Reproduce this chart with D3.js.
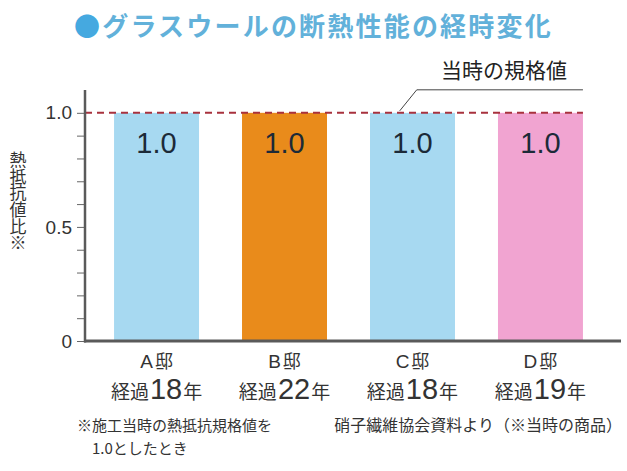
<!DOCTYPE html>
<html>
<head>
<meta charset="utf-8">
<script src="https://cdn.jsdelivr.net/npm/d3@7"></script>
<style>
  body { margin: 0; background: #fff; }
  svg { display: block; }
</style>
</head>
<body>
<svg width="627" height="471"></svg>
<script>
      // chart data
      const houses = ['A', 'B', 'C', 'D'];
      const elapsedYears = [18, 22, 18, 19];
      const ratioValues = [1.0, 1.0, 1.0, 1.0];
      const yTickValues = [0, 0.1, 0.2, 0.3, 0.4, 0.5, 0.6, 0.7, 0.8, 0.9, 1.0];
      const yTickLabels = { 0: '0', 0.5: '0.5', 1: '1.0' };
      const standardValue = 1.0;

      const barColors = ['#a7d9f1', '#e98b1b', '#a7d9f1', '#f1a4d1'];
      const jp = '"Noto Sans CJK JP", "Noto Sans", sans-serif';
      const num = '"Liberation Sans", Arial, sans-serif';

      const svg = d3.select('svg');
      const margin = { left: 85, right: 15, top: 90, bottom: 130 };

      const data = houses.map((h, i) => ({ house: h, years: elapsedYears[i], value: ratioValues[i], color: barColors[i] }));

      const xScale = d3.scaleBand()
        .domain(houses)
        .range([margin.left, 612])
        .paddingInner(0.336)
        .paddingOuter(0.227);

      const yScale = d3.scaleLinear()
        .domain([0, 1.1])
        .range([341, 90]);

      // title
      const title = svg.append('text')
        .attr('x', 74)
        .attr('y', 36)
        .attr('font-family', jp)
        .attr('font-weight', 'bold')
        .attr('font-size', 26)
        .attr('letter-spacing', 2.2);
      title.append('tspan').attr('fill', '#45a9e0').text('●');
      title.append('tspan').attr('fill', '#62b1da').text('グラスウールの断熱性能の経時変化');

      // bars
      svg.selectAll('rect.bar')
        .data(data)
        .enter().append('rect')
          .attr('class', 'bar')
          .attr('x', d => xScale(d.house))
          .attr('y', d => yScale(d.value))
          .attr('width', xScale.bandwidth())
          .attr('height', d => yScale(0) - yScale(d.value))
          .attr('fill', d => d.color);

      // value labels
      svg.selectAll('text.value')
        .data(data)
        .enter().append('text')
          .attr('class', 'value')
          .attr('x', d => xScale(d.house) + xScale.bandwidth() / 2)
          .attr('y', d => yScale(d.value) + 40)
          .attr('text-anchor', 'middle')
          .attr('font-family', num)
          .attr('font-size', 29)
          .attr('fill', '#1c2a38')
          .text(d => d3.format('.1f')(d.value));

      // standard value dashed line
      svg.append('line')
        .attr('x1', margin.left)
        .attr('x2', xScale('D') + xScale.bandwidth())
        .attr('y1', yScale(standardValue))
        .attr('y2', yScale(standardValue))
        .attr('stroke', '#a8323e')
        .attr('stroke-width', 2)
        .attr('stroke-dasharray', '7,5');

      // leader line + label
      const leadX = xScale('C') + xScale.bandwidth() * 0.35;
      svg.append('path')
        .attr('d', `M${leadX},${yScale(standardValue) - 2} L${leadX + 17},${yScale(standardValue) - 23} L${xScale('D') + xScale.bandwidth()},${yScale(standardValue) - 23}`)
        .attr('fill', 'none')
        .attr('stroke', '#444')
        .attr('stroke-width', 1);

      svg.append('text')
        .attr('x', 504)
        .attr('y', 78)
        .attr('text-anchor', 'middle')
        .attr('font-family', jp)
        .attr('font-size', 21)
        .attr('fill', '#222')
        .text('当時の規格値');

      // y axis
      const yAxis = d3.axisLeft(yScale)
        .tickValues(yTickValues)
        .tickSize(8)
        .tickPadding(5)
        .tickFormat(d => yTickLabels[d] || '');

      const yAxisG = svg.append('g')
        .attr('transform', `translate(${margin.left},0)`)
        .call(yAxis);
      yAxisG.select('.domain').remove();
      yAxisG.selectAll('.tick line').attr('stroke', '#666').attr('stroke-width', 1);
      yAxisG.selectAll('.tick text')
        .attr('font-family', num)
        .attr('font-size', 19)
        .attr('fill', '#333');

      svg.append('line')
        .attr('x1', margin.left).attr('x2', margin.left)
        .attr('y1', yScale(1.1)).attr('y2', yScale(0) + 1.5)
        .attr('stroke', '#5a5a5a')
        .attr('stroke-width', 2.5);

      // x axis line
      svg.append('line')
        .attr('x1', margin.left - 1).attr('x2', 621)
        .attr('y1', yScale(0)).attr('y2', yScale(0))
        .attr('stroke', '#5a5a5a')
        .attr('stroke-width', 3);

      // y axis title, set vertically
      svg.append('text')
        .attr('x', 18)
        .attr('y', 151)
        .style('writing-mode', 'vertical-rl')
        .attr('font-family', jp)
        .attr('font-size', 17)
        .attr('letter-spacing', -0.3)
        .attr('fill', '#333')
        .text('熱抵抗値比※');

      // category labels
      const cat = svg.selectAll('g.cat')
        .data(data)
        .enter().append('g')
          .attr('class', 'cat')
          .attr('transform', d => `translate(${xScale(d.house) + xScale.bandwidth() / 2},0)`);

      const nameText = cat.append('text')
        .attr('y', 368)
        .attr('text-anchor', 'middle')
        .attr('fill', '#333');
      nameText.append('tspan').attr('font-family', num).attr('font-size', 19).text(d => d.house);
      nameText.append('tspan').attr('font-family', jp).attr('font-size', 18).attr('dx', 2).text('邸');

      const yearText = cat.append('text')
        .attr('y', 399)
        .attr('text-anchor', 'middle')
        .attr('fill', '#333');
      yearText.append('tspan').attr('font-family', jp).attr('font-size', 19).text('経過');
      yearText.append('tspan').attr('font-family', num).attr('font-size', 29).attr('dx', 1).text(d => d.years);
      yearText.append('tspan').attr('font-family', jp).attr('font-size', 19).attr('dx', 1).text('年');

      // footnotes
      svg.append('text')
        .attr('x', 77).attr('y', 431)
        .attr('font-family', jp).attr('font-size', 15).attr('fill', '#333')
        .text('※施工当時の熱抵抗規格値を');
      svg.append('text')
        .attr('x', 92).attr('y', 454)
        .attr('font-family', jp).attr('font-size', 15).attr('fill', '#333')
        .text('1.0としたとき');
      svg.append('text')
        .attr('x', 622).attr('y', 431)
        .attr('text-anchor', 'end')
        .attr('font-family', jp).attr('font-size', 16).attr('fill', '#333')
        .text('硝子繊維協会資料より（※当時の商品）');
</script>
</body>
</html>
